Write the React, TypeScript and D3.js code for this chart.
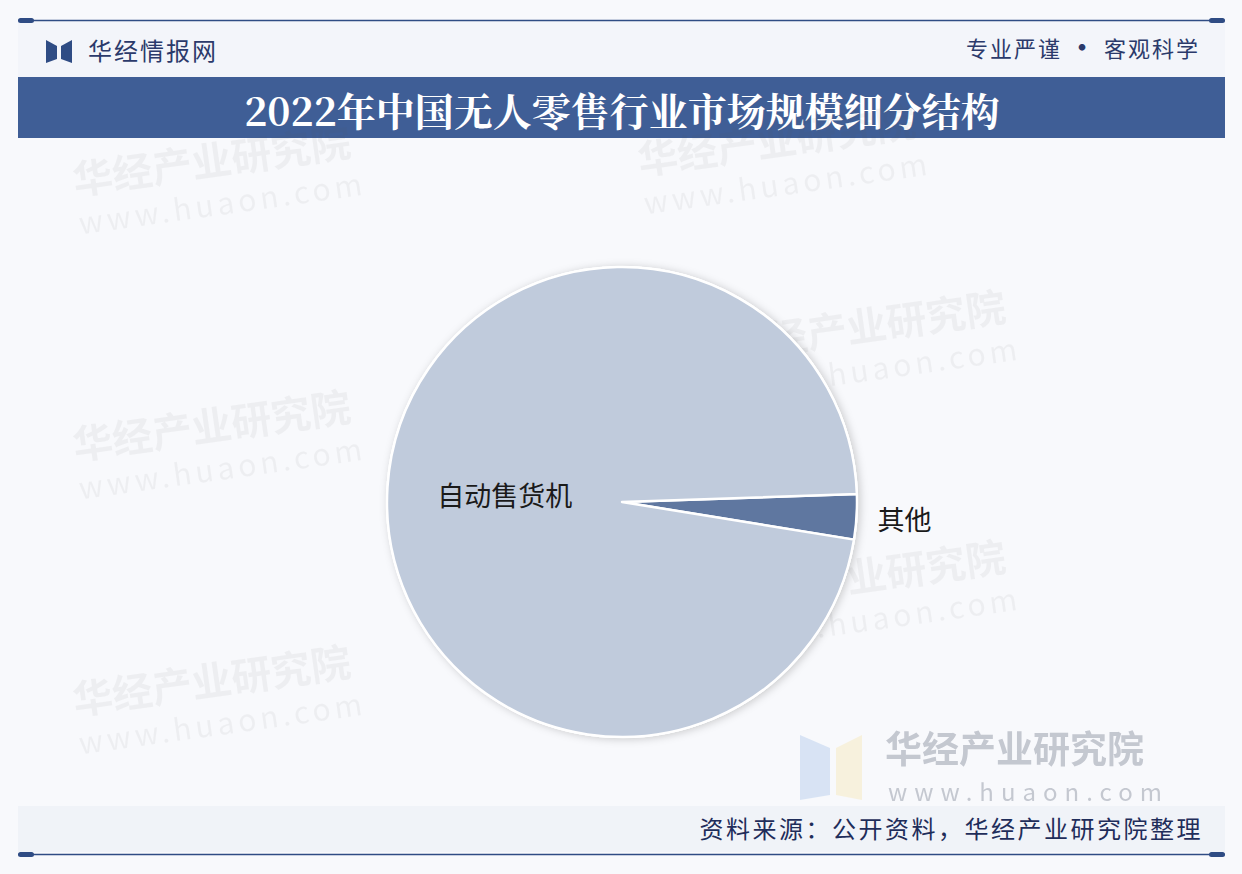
import React from "react";
import * as d3 from "d3";

const categories = ["其他", "自动售货机"];
const values = [3.1, 96.9];
const colors = ["#5f77a0", "#c0cbdc"];
const title = "2022年中国无人零售行业市场规模细分结构";
const source = "资料来源：公开资料，华经产业研究院整理";

const W = 1242;
const H = 874;

export default function App() {
  const cx = 622;
  const cy = 502;
  const R = 235;
  const start = (88.05 * Math.PI) / 180;
  const pie = d3
    .pie<number>()
    .sort(null)
    .value((d) => d)
    .startAngle(start)
    .endAngle(start + Math.PI * 2);
  const arcs = pie(values);
  const arc = d3.arc<d3.PieArcDatum<number>>().innerRadius(0).outerRadius(R);
  const wm = [
    { x: 75, y: 195 },
    { x: 75, y: 460 },
    { x: 75, y: 715 },
    { x: 640, y: 175 },
    { x: 730, y: 360 },
    { x: 730, y: 610 },
  ];
  return (
    <svg
      width={W}
      height={H}
      style={{ position: "absolute", left: 0, top: 0, fontFamily: "'Noto Sans CJK SC', 'Noto Sans', sans-serif" }}
    >
      <defs>
        <filter id="sh" x="-20%" y="-20%" width="140%" height="140%">
          <feDropShadow dx="2" dy="1" stdDeviation="4" floodColor="#000" floodOpacity="0.2" />
        </filter>
      </defs>
      <rect x={0} y={0} width={W} height={H} fill="#f8f9fc" />
      {/* header band */}
      <rect x={18} y={21} width={1207} height={56} fill="#f3f5fa" />
      <line x1={18} y1={20.5} x2={1225} y2={20.5} stroke="#2f4c84" strokeWidth={1.5} />
      <rect x={18} y={18} width={16} height={5} rx={2.5} fill="#2f4c84" />
      <rect x={1209} y={18} width={16} height={5} rx={2.5} fill="#2f4c84" />
      {/* logo */}
      <path d="M46,40 L57,46 L57,59 L46,63 Z" fill="#2f4c84" />
      <path d="M72,40 L61,46 L61,59 L72,63 Z" fill="#2f4c84" />
      <text x={88} y={60} fontSize={24} fill="#2b3a6b" letterSpacing={2}>华经情报网</text>
      <text x={1200} y={57} fontSize={22} fill="#2b3a6b" textAnchor="end" letterSpacing={2}>
        专业严谨 <tspan fontSize={26} fontWeight="bold">•</tspan> 客观科学
      </text>
      {/* title */}
      <rect x={18} y={77} width={1207} height={61} fill="#3f5e96" />
      <text
        x={622}
        y={126}
        fontSize={39}
        fontWeight="bold"
        fill="#ffffff"
        textAnchor="middle"
        style={{ fontFamily: "'Noto Serif CJK SC', 'DejaVu Serif', serif" }}
      >
        {title}
      </text>
      {/* watermarks */}
      {wm.map((p, i) => (
        <g key={i} opacity={0.06} transform={`rotate(-8 ${p.x} ${p.y})`}>
          <text x={p.x} y={p.y} fontSize={40} fontWeight="bold" fill="#555">华经产业研究院</text>
          <text x={p.x} y={p.y + 40} fontSize={30} fill="#555" letterSpacing={4}>www.huaon.com</text>
        </g>
      ))}
      <g opacity={0.35}>
        <path d="M800,735 L830,748 L830,795 L800,800 Z" fill="#9dbde8" />
        <path d="M836,748 L862,735 L862,800 L836,795 Z" fill="#f6e3a6" />
      </g>
      <text x={885} y={763} fontSize={37} fontWeight="bold" fill="#b8bcc6" opacity={0.8}>华经产业研究院</text>
      <text x={888} y={801} fontSize={24} fill="#b8bcc6" letterSpacing={7} opacity={0.8}>www.huaon.com</text>
      {/* pie */}
      <g transform={`translate(${cx},${cy})`}>
        <circle r={R + 1} fill="#ffffff" filter="url(#sh)" />
        {arcs.map((a, i) => (
          <path key={i} d={arc(a) || ""} fill={colors[i]} stroke="#ffffff" strokeWidth={2.5} strokeLinejoin="round" />
        ))}
        {arcs.map((a, i) => {
          if (i === 0) {
            const mid = (a.startAngle + a.endAngle) / 2;
            const r = R + 21;
            return (
              <text
                key={i}
                x={Math.sin(mid) * r}
                y={-Math.cos(mid) * r}
                fontSize={27}
                fill="#1a1a1a"
                dominantBaseline="central"
                textAnchor="start"
              >
                {categories[i]}
              </text>
            );
          }
          const [lx, ly] = arc.centroid(a);
          return (
            <text key={i} x={lx} y={ly} fontSize={27} fill="#1a1a1a" textAnchor="middle" dominantBaseline="central">
              {categories[i]}
            </text>
          );
        })}
      </g>
      {/* footer */}
      <rect x={18} y={806} width={1207} height={46} fill="#eef1f6" opacity={0.8} />
      <text x={1203} y={838} fontSize={24} fill="#1f2d5a" textAnchor="end" letterSpacing={2.5}>
        {source}
      </text>
      <line x1={18} y1={854.5} x2={1225} y2={854.5} stroke="#2f4c84" strokeWidth={1.5} />
      <rect x={18} y={852} width={16} height={5} rx={2.5} fill="#2f4c84" />
      <rect x={1209} y={852} width={16} height={5} rx={2.5} fill="#2f4c84" />
    </svg>
  );
}
